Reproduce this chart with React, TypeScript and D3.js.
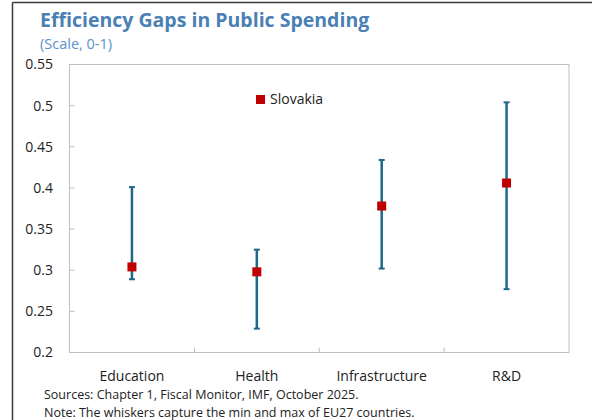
import React from "react";
import * as d3 from "d3";

const categories = ["Education", "Health", "Infrastructure", "R&D"];
const slovakia = [0.304, 0.298, 0.378, 0.406];
const euMin = [0.289, 0.229, 0.302, 0.277];
const euMax = [0.401, 0.325, 0.434, 0.504];
const yTicks = [0.2, 0.25, 0.3, 0.35, 0.4, 0.45, 0.5, 0.55];
const yTickLabels = ["0.2", "0.25", "0.3", "0.35", "0.4", "0.45", "0.5", "0.55"];

const W = 592;
const H = 420;
const plot = { left: 69.5, right: 569, top: 64.5, bottom: 352.5 };
const FONT = "'Open Sans', 'Noto Sans', sans-serif";

export default function App() {
  const x = d3.scaleBand<string>().domain(categories).range([plot.left, plot.right]).padding(0);
  const y = d3.scaleLinear().domain([0.2, 0.55]).range([plot.bottom, plot.top]);
  const whisker = "#1f6888";
  const red = "#c00000";
  const axisGray = "#bfbfbf";
  const boundaries = categories.slice(1).map((c) => x(c) as number);

  return (
    <div style={{ position: "fixed", left: 0, top: 0, width: W, height: H, background: "#fff" }}>
      <svg width={W} height={H} style={{ display: "block", fontFamily: FONT }}>
        <rect x={0} y={0} width={W} height={H} fill="#fff" />
        {/* frame */}
        <line x1={12.5} x2={W} y1={2.5} y2={2.5} stroke="#3a3a3a" strokeWidth={1.5} />
        <line x1={12.5} x2={12.5} y1={2.5} y2={H} stroke="#3a3a3a" strokeWidth={1.5} />

        <text x={40} y={27} fontSize={19.5} fontWeight={700} fill="#4a80b4">
          Efficiency Gaps in Public Spending
        </text>
        <text x={40} y={49} fontSize={14.5} fill="#5b93cc">
          (Scale, 0-1)
        </text>

        {/* plot frame */}
        <rect
          x={plot.left}
          y={plot.top}
          width={plot.right - plot.left}
          height={plot.bottom - plot.top}
          fill="none"
          stroke={axisGray}
          strokeWidth={1}
        />
        {yTicks.map((t, i) => (
          <g key={t}>
            <line x1={plot.left} x2={plot.left + 5} y1={y(t)} y2={y(t)} stroke={axisGray} />
            <text x={53} y={y(t)} dy="0.35em" textAnchor="end" fontSize={14} fill="#222">
              {yTickLabels[i]}
            </text>
          </g>
        ))}
        {boundaries.map((b, i) => (
          <line key={i} x1={b} x2={b} y1={plot.bottom} y2={plot.bottom - 5} stroke={axisGray} />
        ))}
        {categories.map((c) => (
          <text
            key={c}
            x={(x(c) as number) + x.bandwidth() / 2}
            y={381}
            textAnchor="middle"
            fontSize={14}
            fill="#222"
          >
            {c}
          </text>
        ))}

        {categories.map((c, i) => {
          const cx = (x(c) as number) + x.bandwidth() / 2;
          return (
            <g key={c}>
              <line x1={cx} x2={cx} y1={y(euMin[i])} y2={y(euMax[i])} stroke={whisker} strokeWidth={2.5} />
              <line x1={cx - 3} x2={cx + 3} y1={y(euMin[i])} y2={y(euMin[i])} stroke={whisker} strokeWidth={2} />
              <line x1={cx - 3} x2={cx + 3} y1={y(euMax[i])} y2={y(euMax[i])} stroke={whisker} strokeWidth={2} />
              <rect x={cx - 4.5} y={y(slovakia[i]) - 4.5} width={9} height={9} fill={red} />
            </g>
          );
        })}

        {/* legend */}
        <rect x={256} y={95} width={9} height={9} fill={red} />
        <text x={270} y={99.5} dy="0.35em" fontSize={14} fill="#222">
          Slovakia
        </text>

        <text x={44} y={398.5} fontSize={12.5} fill="#222">
          Sources: Chapter 1, Fiscal Monitor, IMF, October 2025.
        </text>
        <text x={44} y={416.5} fontSize={12.5} fill="#222">
          Note: The whiskers capture the min and max of EU27 countries.
        </text>
      </svg>
    </div>
  );
}
